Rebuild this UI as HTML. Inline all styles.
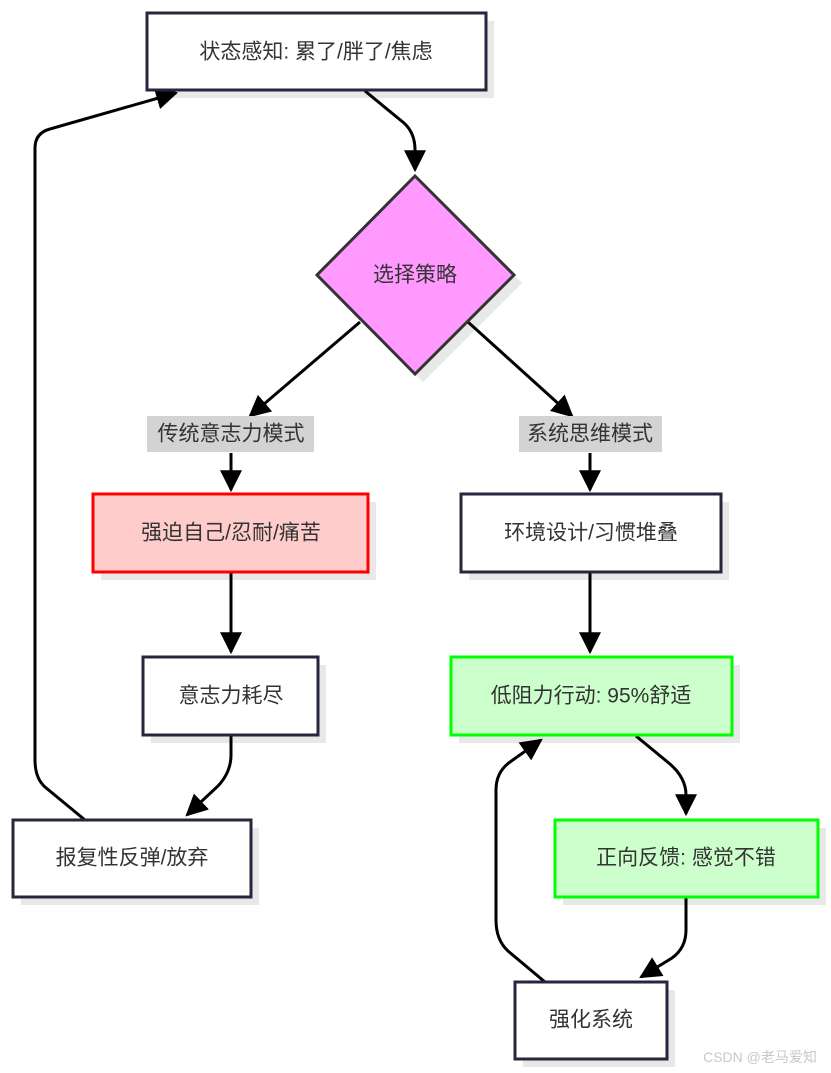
<!DOCTYPE html>
<html><head><meta charset="utf-8"><style>
html,body{margin:0;padding:0;background:#fff;}
svg{display:block;}
text{font-family:"Liberation Sans","Noto Sans CJK SC",sans-serif;font-size:21px;fill:#333;text-anchor:middle;dominant-baseline:central;}
</style></head><body>
<svg width="831" height="1073" viewBox="0 0 831 1073" xmlns="http://www.w3.org/2000/svg">
<defs><marker id="a" viewBox="0 0 10 10" refX="9" refY="5" markerWidth="7" markerHeight="7" orient="auto" markerUnits="userSpaceOnUse"><path d="M0,0L10,5L0,10z" fill="#000"/></marker>
<marker id="b" viewBox="0 0 10 10" refX="9" refY="5" markerWidth="22" markerHeight="22" orient="auto" markerUnits="userSpaceOnUse"><path d="M0,0L10,5L0,10z" fill="#000"/></marker></defs>
<g fill="#e8e8e8">
<rect x="155" y="21" width="339" height="77"/>
<polygon points="423,184 522,283 423,382 325,283"/>
<rect x="101" y="502" width="275" height="78"/>
<rect x="469" y="502" width="260" height="78"/>
<rect x="151" y="665" width="175" height="78"/>
<rect x="459" y="665" width="281" height="78"/>
<rect x="21" y="828" width="238" height="77"/>
<rect x="563" y="828" width="263" height="77"/>
<rect x="523" y="990" width="152" height="77"/>
</g>
<g stroke-width="3" fill="none" stroke="#000" marker-end="url(#b)">
<path d="M365,91 L404,123 Q415,133 415,150 L415,170"/>
<path d="M360,322 L250,416"/>
<path d="M468,322 L572,416"/>
<path d="M231,453 L231,490"/>
<path d="M590,453 L590,490"/>
<path d="M231,573 L231,652"/>
<path d="M590,573 L590,652"/>
<path d="M231,736 L231,755 Q231,772 218,786 L187,815"/>
<path d="M85,820 L45,787 Q35,778 35,760 L35,148 Q35,133 50,129 L176,93"/>
<path d="M636,736 L670,764 Q686,778 686,795 L686,814"/>
<path d="M686,898 L686,930 Q686,948 672,958 L641,977"/>
<path d="M545,982 L508,951 Q496,940 496,920 L496,790 Q496,772 510,762 L541,740"/>
</g>
<g stroke-width="3">
<rect x="147" y="13" width="339" height="77" fill="#fff" stroke="#26263e"/>
<polygon points="415,176 514,275 415,374 317,275" fill="#ff99ff" stroke="#333"/>
<rect x="93" y="494" width="275" height="78" fill="#ffcccc" stroke="#ff0000"/>
<rect x="461" y="494" width="260" height="78" fill="#fff" stroke="#26263e"/>
<rect x="143" y="657" width="175" height="78" fill="#fff" stroke="#26263e"/>
<rect x="451" y="657" width="281" height="78" fill="#ccffcc" stroke="#00ff00"/>
<rect x="13" y="820" width="238" height="77" fill="#fff" stroke="#26263e"/>
<rect x="555" y="820" width="263" height="77" fill="#ccffcc" stroke="#00ff00"/>
<rect x="515" y="982" width="152" height="77" fill="#fff" stroke="#26263e"/>
</g>
<rect x="147" y="416" width="167" height="36" fill="#d3d3d3"/>
<rect x="519" y="416" width="143" height="36" fill="#d3d3d3"/>
<text x="316" y="52">状态感知: 累了/胖了/焦虑</text>
<text x="415" y="275">选择策略</text>
<text x="231" y="434">传统意志力模式</text>
<text x="590" y="434">系统思维模式</text>
<text x="231" y="533">强迫自己/忍耐/痛苦</text>
<text x="591" y="533">环境设计/习惯堆叠</text>
<text x="231" y="696">意志力耗尽</text>
<text x="591" y="696">低阻力行动: 95%舒适</text>
<text x="132" y="858">报复性反弹/放弃</text>
<text x="686" y="858">正向反馈: 感觉不错</text>
<text x="591" y="1020">强化系统</text>
<text x="760" y="1057" style="font-size:14px;fill:#c8c8c8">CSDN @老马爱知</text>
</svg>
</body></html>
